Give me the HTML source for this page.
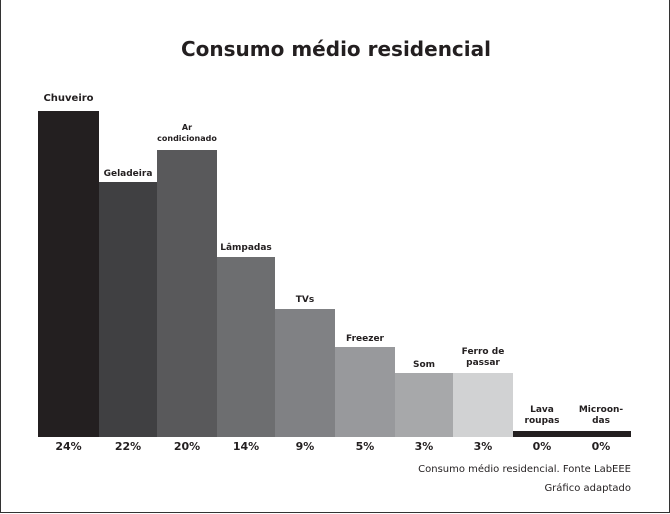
<!DOCTYPE html>
<html><head><meta charset="utf-8"><style>
body{margin:0;background:#fff;}
#c{position:relative;width:668px;height:512px;border:1px solid #333;border-top:none;font-family:"DejaVu Sans","Liberation Sans",sans-serif;color:#231f20;overflow:hidden;}
.b{position:absolute;bottom:75px;}
.l{position:absolute;text-align:center;font-weight:bold;font-size:9px;line-height:11px;}
.p{position:absolute;top:440px;text-align:center;font-weight:bold;font-size:11px;}
h1{position:absolute;top:37px;left:0;width:670px;text-align:center;margin:0;font-size:20px;font-weight:bold;}
.f{position:absolute;right:38px;font-size:10px;}
</style></head><body><div id="c">
<h1>Consumo médio residencial</h1>
<div class="b" style="left:37px;width:61px;height:326px;background:#231f20"></div>
<div class="b" style="left:98px;width:58px;height:255px;background:#404042"></div>
<div class="b" style="left:156px;width:60px;height:287px;background:#59595b"></div>
<div class="b" style="left:216px;width:58px;height:180px;background:#6d6e70"></div>
<div class="b" style="left:274px;width:60px;height:128px;background:#808184"></div>
<div class="b" style="left:334px;width:60px;height:90px;background:#98999c"></div>
<div class="b" style="left:394px;width:58px;height:64px;background:#a7a8aa"></div>
<div class="b" style="left:452px;width:60px;height:64px;background:#d1d2d3"></div>
<div class="b" style="left:512px;width:118px;height:6px;background:#231f20"></div>
<div class="l" style="left:37px;width:61px;top:93px;font-size:10px">Chuveiro</div>
<div class="l" style="left:98px;width:58px;top:169px">Geladeira</div>
<div class="l" style="left:156px;width:60px;top:122px;font-size:8px;line-height:11px">Ar<br>condicionado</div>
<div class="l" style="left:216px;width:58px;top:243px">Lâmpadas</div>
<div class="l" style="left:274px;width:60px;top:295px">TVs</div>
<div class="l" style="left:334px;width:60px;top:334px">Freezer</div>
<div class="l" style="left:394px;width:58px;top:360px">Som</div>
<div class="l" style="left:452px;width:60px;top:347px">Ferro de<br>passar</div>
<div class="l" style="left:512px;width:58px;top:405px">Lava<br>roupas</div>
<div class="l" style="left:570px;width:60px;top:405px">Microon-<br>das</div>
<div class="p" style="left:37px;width:61px">24%</div>
<div class="p" style="left:98px;width:58px">22%</div>
<div class="p" style="left:156px;width:60px">20%</div>
<div class="p" style="left:216px;width:58px">14%</div>
<div class="p" style="left:274px;width:60px">9%</div>
<div class="p" style="left:334px;width:60px">5%</div>
<div class="p" style="left:394px;width:58px">3%</div>
<div class="p" style="left:452px;width:60px">3%</div>
<div class="p" style="left:512px;width:58px">0%</div>
<div class="p" style="left:570px;width:60px">0%</div>
<div class="f" style="top:464px">Consumo médio residencial. Fonte LabEEE</div>
<div class="f" style="top:483px">Gráfico adaptado</div>
</div></body></html>
